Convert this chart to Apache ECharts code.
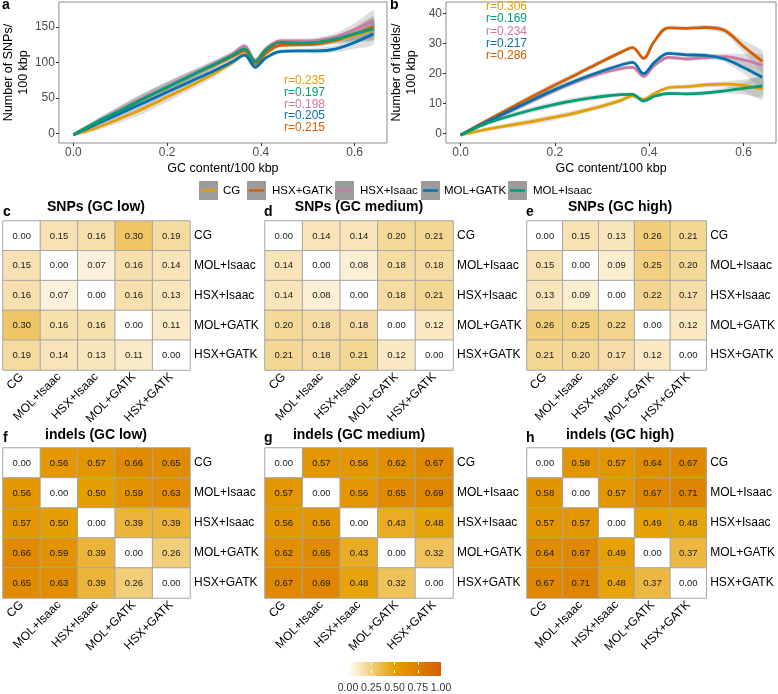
<!DOCTYPE html>
<html>
<head>
<meta charset="utf-8">
<script src="https://cdn.jsdelivr.net/npm/echarts@6/dist/echarts.min.js"></script>
<style>
html, body { margin: 0; padding: 0; background: #fff; }
#chart { width: 778px; height: 694px; }
</style>
</head>
<body>
<div id="chart"></div>
<script>
// pipelines, in legend order, with their colours
var pipelines = ['CG', 'HSX+GATK', 'HSX+Isaac', 'MOL+GATK', 'MOL+Isaac'];
var pipeColors = ['#E69F00', '#D55E00', '#CC79A7', '#0072B2', '#009E73'];

// GC content positions where the smoothed curves were read
var gcX = [0, 0.05, 0.1, 0.15, 0.2, 0.25, 0.3, 0.34, 0.365, 0.388, 0.41, 0.44, 0.48, 0.52, 0.56, 0.6, 0.64];

// panel a: SNPs per 100 kbp
var snpCG       = [-2, 8, 21, 35, 51, 67, 84, 100, 111, 97, 112, 124, 125, 127, 131, 138, 146];
var snpHsxGatk  = [-2, 15, 32, 49, 65, 81, 96, 108, 116, 98, 113, 124, 125, 126, 131, 140, 150];
var snpHsxIsaac = [-2, 16, 33, 50, 66, 82, 98, 112, 123, 103, 119, 130, 130, 131, 136, 146, 158];
var snpMolGatk  = [-2, 13, 28, 43, 58, 73, 88, 101, 110, 93, 106, 115, 116, 116, 119, 128, 140];
var snpMolIsaac = [-2, 16, 32, 49, 65, 81, 97, 110, 119, 101, 117, 128, 127, 128, 133, 140, 147];
var snpBand     = [2, 4, 6, 7, 7, 6, 5, 4, 3, 3, 3, 3, 3, 4, 5, 9, 15];

// panel b: indels per 100 kbp
var indelCG       = [-0.5, 1.2, 2.6, 3.9, 5.4, 7.1, 9.1, 11.0, 12.5, 11.3, 13.2, 15.2, 15.6, 16.2, 16.4, 16.0, 14.8];
var indelHsxGatk  = [-0.5, 3.8, 8.0, 12.1, 16.1, 20.0, 24.0, 27.0, 28.6, 25.0, 30.5, 35.2, 35.0, 35.3, 34.3, 29.0, 24.0];
var indelHsxIsaac = [-0.5, 3.3, 7.0, 10.8, 14.4, 17.6, 20.2, 21.6, 22.0, 19.0, 22.5, 25.3, 24.8, 25.3, 25.6, 24.5, 22.8];
var indelMolGatk  = [-0.5, 3.4, 7.2, 11.0, 14.6, 17.9, 20.8, 22.8, 23.7, 19.9, 23.5, 26.7, 26.2, 26.0, 24.8, 22.0, 18.7];
var indelMolIsaac = [-0.5, 3.0, 5.6, 7.8, 9.7, 11.2, 12.3, 12.9, 13.0, 10.8, 12.3, 13.3, 13.2, 13.5, 14.2, 15.0, 15.8];
var indelBand     = [0.4, 0.6, 0.8, 1.0, 1.0, 0.9, 0.8, 0.7, 0.6, 0.6, 0.6, 0.6, 0.7, 0.8, 1.0, 2.0, 3.5];

// correlation labels (top to bottom)
var snpR = ['r=0.235', 'r=0.197', 'r=0.198', 'r=0.205', 'r=0.215'];
var indelR = ['r=0.306', 'r=0.169', 'r=0.234', 'r=0.217', 'r=0.286'];
var rColors = ['#E69F00', '#009E73', '#CC79A7', '#0072B2', '#D55E00'];

// heatmaps
var hmLabels = ['CG', 'MOL+Isaac', 'HSX+Isaac', 'MOL+GATK', 'HSX+GATK'];
var snpLow = [
    [0.00, 0.15, 0.16, 0.30, 0.19],
    [0.15, 0.00, 0.07, 0.16, 0.14],
    [0.16, 0.07, 0.00, 0.16, 0.13],
    [0.30, 0.16, 0.16, 0.00, 0.11],
    [0.19, 0.14, 0.13, 0.11, 0.00]
];
var snpMedium = [
    [0.00, 0.14, 0.14, 0.20, 0.21],
    [0.14, 0.00, 0.08, 0.18, 0.18],
    [0.14, 0.08, 0.00, 0.18, 0.21],
    [0.20, 0.18, 0.18, 0.00, 0.12],
    [0.21, 0.18, 0.21, 0.12, 0.00]
];
var snpHigh = [
    [0.00, 0.15, 0.13, 0.26, 0.21],
    [0.15, 0.00, 0.09, 0.25, 0.20],
    [0.13, 0.09, 0.00, 0.22, 0.17],
    [0.26, 0.25, 0.22, 0.00, 0.12],
    [0.21, 0.20, 0.17, 0.12, 0.00]
];
var indelLow = [
    [0.00, 0.56, 0.57, 0.66, 0.65],
    [0.56, 0.00, 0.50, 0.59, 0.63],
    [0.57, 0.50, 0.00, 0.39, 0.39],
    [0.66, 0.59, 0.39, 0.00, 0.26],
    [0.65, 0.63, 0.39, 0.26, 0.00]
];
var indelMedium = [
    [0.00, 0.57, 0.56, 0.62, 0.67],
    [0.57, 0.00, 0.56, 0.65, 0.69],
    [0.56, 0.56, 0.00, 0.43, 0.48],
    [0.62, 0.65, 0.43, 0.00, 0.32],
    [0.67, 0.69, 0.48, 0.32, 0.00]
];
var indelHigh = [
    [0.00, 0.58, 0.57, 0.64, 0.67],
    [0.58, 0.00, 0.57, 0.67, 0.71],
    [0.57, 0.57, 0.00, 0.49, 0.48],
    [0.64, 0.67, 0.49, 0.00, 0.37],
    [0.67, 0.71, 0.48, 0.37, 0.00]
];
var scaleColors = ['#FFFFFF', '#E69F00', '#D55E00'];

var FONT = 'Liberation Sans, Arial, sans-serif';
var grids = [], xAxes = [], yAxes = [], series = [], titles = [], graphics = [];
var heatSeries = [];

function addLinePanel(rect, xr, yr, yTicks, yName, lines, band) {
    var g = grids.length;
    grids.push({left: rect[0], top: rect[1], width: rect[2], height: rect[3], show: true,
        borderColor: '#8c8c8c', borderWidth: 1, backgroundColor: 'transparent'});
    xAxes.push({
        type: 'value', gridIndex: g, min: xr[0], max: xr[1],
        name: 'GC content/100 kbp', nameLocation: 'middle', nameGap: 19,
        nameTextStyle: {fontSize: 12.5, color: '#000', fontFamily: FONT},
        axisLine: {show: false, onZero: false}, splitLine: {show: false},
        axisTick: {show: true, length: 3, lineStyle: {color: '#333'}, customValues: [0, 0.2, 0.4, 0.6]},
        axisLabel: {fontSize: 12, color: '#4d4d4d', margin: 4, fontFamily: FONT,
            customValues: [0, 0.2, 0.4, 0.6], formatter: function (v) { return v.toFixed(1); }}
    });
    yAxes.push({
        type: 'value', gridIndex: g, min: yr[0], max: yr[1],
        name: yName, nameLocation: 'middle', nameGap: 27, nameRotate: 90,
        nameTextStyle: {fontSize: 12.5, color: '#000', lineHeight: 15, fontFamily: FONT},
        axisLine: {show: false, onZero: false}, splitLine: {show: false},
        axisTick: {show: true, length: 3, lineStyle: {color: '#333'}, customValues: yTicks},
        axisLabel: {fontSize: 12, color: '#4d4d4d', margin: 4, fontFamily: FONT, customValues: yTicks}
    });
    lines.forEach(function (vals, k) {
        series.push({
            type: 'custom', xAxisIndex: g, yAxisIndex: g, silent: true, z: 1,
            data: [[gcX[0], vals[0]]],
            renderItem: function (params, api) {
                var up = [], lo = [];
                for (var i = 0; i < gcX.length; i++) {
                    up.push(api.coord([gcX[i], vals[i] + band[i]]));
                    lo.unshift(api.coord([gcX[i], vals[i] - band[i]]));
                }
                return {type: 'polygon', shape: {points: up.concat(lo), smooth: 0.2},
                    style: {fill: 'rgba(128,128,128,0.26)'}};
            }
        });
    });
    lines.forEach(function (vals, k) {
        series.push({
            type: 'line', name: pipelines[k], xAxisIndex: g, yAxisIndex: g, z: 3,
            data: gcX.map(function (x, i) { return [x, vals[i]]; }),
            showSymbol: false, smooth: 0.35, silent: true,
            lineStyle: {color: pipeColors[k], width: 2.8}, itemStyle: {color: pipeColors[k]}
        });
    });
}

function addHeatPanel(rect, matrix) {
    var g = grids.length;
    grids.push({left: rect[0], top: rect[1], width: rect[2], height: rect[3]});
    xAxes.push({
        type: 'category', gridIndex: g, data: hmLabels,
        axisLine: {show: false}, axisTick: {show: false}, splitLine: {show: false},
        axisLabel: {rotate: 45, interval: 0, fontSize: 12, color: '#000', margin: 5, fontFamily: FONT}
    });
    yAxes.push({
        type: 'category', gridIndex: g, data: hmLabels, inverse: true, position: 'right',
        axisLine: {show: false}, axisTick: {show: false}, splitLine: {show: false},
        axisLabel: {interval: 0, fontSize: 12, color: '#000', margin: 4, fontFamily: FONT}
    });
    var data = [];
    matrix.forEach(function (row, r) {
        row.forEach(function (v, c) { data.push([c, r, v]); });
    });
    heatSeries.push(series.length);
    series.push({
        type: 'heatmap', xAxisIndex: g, yAxisIndex: g, data: data, silent: true,
        itemStyle: {borderColor: '#a6a6a6', borderWidth: 1},
        label: {show: true, fontSize: 9.5, color: '#1a1a1a', fontFamily: FONT,
            formatter: function (p) { return p.value[2].toFixed(2); }}
    });
}

function addTitle(text, x, y, size, center) {
    titles.push({
        text: text, left: x, top: y, textAlign: center ? 'center' : 'left', padding: 0,
        textStyle: {fontSize: size, fontWeight: 'bold', color: '#000', fontFamily: FONT}
    });
}

addLinePanel([58, 2, 329, 141], [-0.031, 0.669], [-13.7, 184.9], [0, 50, 100, 150],
    'Number of SNPs/\n100 kbp', [snpCG, snpHsxGatk, snpHsxIsaac, snpMolGatk, snpMolIsaac], snpBand);
addLinePanel([446, 2, 330, 141], [-0.031, 0.669], [-3.2, 43.8], [0, 10, 20, 30, 40],
    'Number of indels/\n100 kbp', [indelCG, indelHsxGatk, indelHsxIsaac, indelMolGatk, indelMolIsaac], indelBand);

addHeatPanel([3, 221, 187, 149], snpLow);
addHeatPanel([265, 221, 188, 149], snpMedium);
addHeatPanel([527, 221, 187, 149], snpHigh);
addHeatPanel([3, 448, 187, 150], indelLow);
addHeatPanel([265, 448, 188, 150], indelMedium);
addHeatPanel([527, 448, 187, 150], indelHigh);

// colour bar axis
var cb = grids.length;
grids.push({left: 348, top: 662, width: 93, height: 14});
xAxes.push({
    type: 'value', gridIndex: cb, min: 0, max: 1, interval: 0.25,
    axisLine: {show: false}, splitLine: {show: false},
    axisTick: {show: true, inside: true, length: 3, lineStyle: {color: '#fff', width: 1}},
    axisLabel: {fontSize: 10.5, color: '#333', margin: 10, fontFamily: FONT,
        formatter: function (v) { return v.toFixed(2); }}
});
yAxes.push({type: 'value', gridIndex: cb, min: 0, max: 1, show: false});
xAxes.push({
    type: 'value', gridIndex: cb, min: 0, max: 1, interval: 0.25, position: 'top',
    axisLine: {show: false}, splitLine: {show: false}, axisLabel: {show: false},
    axisTick: {show: true, inside: true, length: 3, lineStyle: {color: '#fff', width: 1}}
});
series.push({type: 'line', xAxisIndex: cb, yAxisIndex: cb, data: [], silent: true});
series.push({type: 'line', xAxisIndex: cb + 1, yAxisIndex: cb, data: [], silent: true});

graphics.push({
    type: 'rect', left: 348, top: 662, z: -10,
    shape: {width: 93, height: 14},
    style: {fill: new echarts.graphic.LinearGradient(0, 0, 1, 0, [
        {offset: 0, color: scaleColors[0]},
        {offset: 0.5, color: scaleColors[1]},
        {offset: 1, color: scaleColors[2]}
    ])}
});

// panel letters and heatmap titles
addTitle('a', 2, -2, 14);
addTitle('b', 390, -2, 14);
addTitle('c', 3, 205, 14);
addTitle('d', 264, 205, 14);
addTitle('e', 526, 205, 14);
addTitle('f', 3, 431, 14);
addTitle('g', 264, 431, 14);
addTitle('h', 526, 431, 14);
addTitle('SNPs (GC low)', 96, 200, 14, true);
addTitle('SNPs (GC medium)', 359, 200, 14, true);
addTitle('SNPs (GC high)', 620, 200, 14, true);
addTitle('indels (GC low)', 96, 428, 14, true);
addTitle('indels (GC medium)', 359, 428, 14, true);
addTitle('indels (GC high)', 620, 428, 14, true);

// correlation labels
snpR.forEach(function (t, i) {
    graphics.push({type: 'text', left: 284, top: 75 + i * 11.6, z: 10,
        style: {text: t, fill: rColors[i], font: '12px ' + FONT}});
});
indelR.forEach(function (t, i) {
    graphics.push({type: 'text', left: 486, top: 1 + i * 12.1, z: 10,
        style: {text: t, fill: rColors[i], font: '12px ' + FONT}});
});

// legend keys
var keyX = [199, 247, 335, 421, 508];
var keyTextX = [223, 272, 360, 444, 533];
pipelines.forEach(function (name, i) {
    graphics.push({type: 'rect', left: keyX[i], top: 181, z: 10,
        shape: {width: 19, height: 19}, style: {fill: '#9c9c9c'}});
    graphics.push({type: 'line', z: 11,
        shape: {x1: keyX[i] + 2, y1: 190.5, x2: keyX[i] + 17, y2: 190.5},
        style: {stroke: pipeColors[i], lineWidth: 2.5}});
    graphics.push({type: 'text', left: keyTextX[i], top: 184.5, z: 10,
        style: {text: name, fill: '#000', font: '11.5px ' + FONT}});
});

var chart = echarts.init(document.getElementById('chart'), null, {renderer: 'canvas'});
chart.setOption({
    animation: false,
    backgroundColor: '#fff',
    title: titles,
    grid: grids,
    xAxis: xAxes,
    yAxis: yAxes,
    visualMap: {
        type: 'continuous', show: false, min: 0, max: 1,
        seriesIndex: heatSeries,
        inRange: {color: scaleColors}
    },
    series: series,
    graphic: graphics
});
</script>
</body>
</html>
